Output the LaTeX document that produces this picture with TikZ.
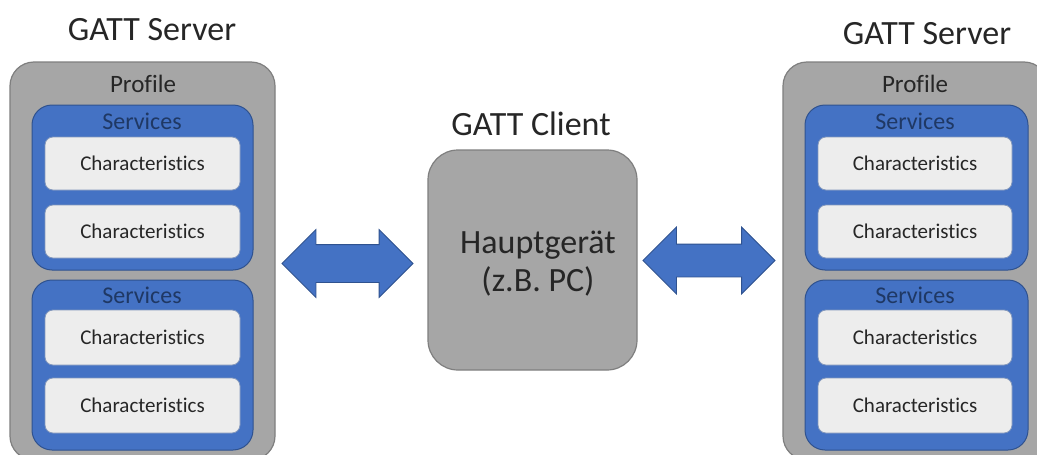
\documentclass[tikz,border=0pt]{standalone}
\usepackage{fontspec}
\setmainfont[Ligatures={NoCommon}]{Carlito}
\usetikzlibrary{shapes.arrows}
\definecolor{profgray}{HTML}{A6A6A6}
\definecolor{profedge}{HTML}{7F7F7F}
\definecolor{servblue}{HTML}{4472C4}
\definecolor{servedge}{HTML}{2F528F}
\definecolor{servtext}{HTML}{1F3864}
\definecolor{charfill}{HTML}{EDEDED}
\tikzset{
  profilebox/.style={draw=profedge, line width=1.2pt, fill=profgray, rounded corners=24pt, inner sep=0pt},
  servbox/.style={draw=servedge, line width=1pt, fill=servblue, rounded corners=20pt, inner sep=0pt},
  charbox/.style={draw=servedge!60, line width=0.8pt, fill=charfill, rounded corners=8pt, inner sep=0pt,
     font=\fontsize{21}{24}\selectfont, text=black!85},
  title/.style={font=\fontsize{34}{40}\selectfont, text=black!85, inner sep=0pt},
  proftext/.style={font=\fontsize{25}{30}\selectfont, text=black!85, inner sep=0pt},
  servtitle/.style={font=\fontsize{24}{28}\selectfont, text=servtext, inner sep=0pt},
  blockarrow/.style={double arrow, draw=servedge, line width=0.8pt, fill=servblue, inner xsep=0pt,
     double arrow head extend=15pt, double arrow tip angle=90},
  clientbox/.style={draw=profedge, line width=1.2pt, fill=profgray, rounded corners=30pt, inner sep=0pt}
}
\begin{document}
\begin{tikzpicture}[x=1pt,y=-1pt]
\useasboundingbox[fill=white] (0,0) rectangle (1037,455);
% titles
\node[title] (tl) at (152,30) {GATT Server};
\node[title] (tr) at (927,34) {GATT Server};
\node[title] (tc) at (531,124) {GATT Client};
% left profile
\node[profilebox, minimum width=265pt, minimum height=398pt] (pl) at (142.5,261) {};
\node[proftext] (plt) at (143,84) {Profile};
\node[servbox, minimum width=221pt, minimum height=165pt] (sl1) at (142.5,187.5) {};
\node[servtitle] (sl1t) at (142,121) {Services};
\node[charbox, minimum width=195pt, minimum height=53pt] (cl1) at (142.5,163.5) {Characteristics};
\node[charbox, minimum width=195pt, minimum height=53pt] (cl2) at (142.5,231.5) {Characteristics};
\node[servbox, minimum width=221pt, minimum height=170pt] (sl2) at (142.5,365) {};
\node[servtitle] (sl2t) at (142,295) {Services};
\node[charbox, minimum width=195pt, minimum height=55pt] (cl3) at (142.5,337.5) {Characteristics};
\node[charbox, minimum width=195pt, minimum height=55pt] (cl4) at (142.5,405.5) {Characteristics};
% right profile
\node[profilebox, minimum width=265pt, minimum height=398pt] (pr) at (915.5,261) {};
\node[proftext] (prt) at (915,84) {Profile};
\node[servbox, minimum width=223pt, minimum height=165pt] (sr1) at (916.5,187.5) {};
\node[servtitle] (sr1t) at (915,121) {Services};
\node[charbox, minimum width=194pt, minimum height=53pt] (cr1) at (915,163.5) {Characteristics};
\node[charbox, minimum width=194pt, minimum height=53pt] (cr2) at (915,231.5) {Characteristics};
\node[servbox, minimum width=223pt, minimum height=170pt] (sr2) at (916.5,365) {};
\node[servtitle] (sr2t) at (915,295) {Services};
\node[charbox, minimum width=194pt, minimum height=55pt] (cr3) at (915,337.5) {Characteristics};
\node[charbox, minimum width=194pt, minimum height=55pt] (cr4) at (915,405.5) {Characteristics};
% client
\node[clientbox, minimum width=209pt, minimum height=220pt] (cl) at (532.5,260) {};
\node[font=\fontsize{34}{38}\selectfont, text=black!85, align=center, inner sep=0pt] (clt) at (538,264) {Hauptgerät\\(z.B. PC)};
% arrows
\node[blockarrow, inner ysep=18.5pt, minimum height=131pt] (al) at (347.5,263.5) {};
\node[blockarrow, inner ysep=16pt, minimum height=132pt, double arrow head extend=17pt] (ar) at (709,260.5) {};
\end{tikzpicture}
\end{document}
